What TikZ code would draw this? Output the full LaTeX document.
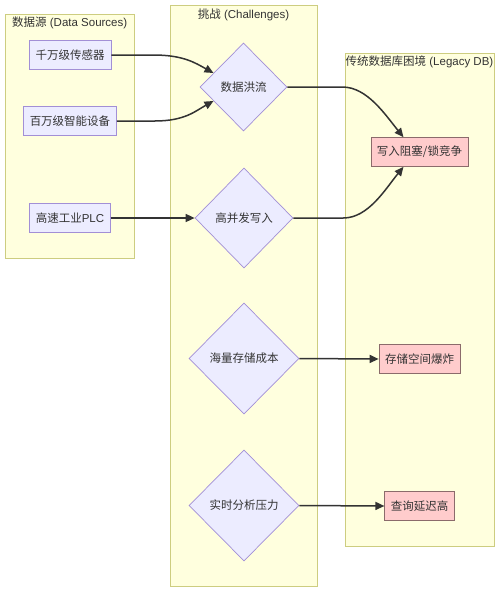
\documentclass[tikz,border=0pt]{standalone}
\usepackage{fontspec}
\setmainfont{Liberation Sans}
\newfontfamily\cjk{Noto Sans CJK SC}
\usetikzlibrary{shapes.geometric,arrows.meta}
\definecolor{clfill}{HTML}{FFFFDE}
\definecolor{clline}{HTML}{CDCD80}
\definecolor{nfill}{HTML}{ECECFF}
\definecolor{nline}{HTML}{A28FD6}
\definecolor{rfill}{HTML}{FFCCCC}
\definecolor{rline}{HTML}{8B6B6B}
\definecolor{txt}{HTML}{333333}
\tikzset{
  cluster/.style={draw=clline, fill=clfill, line width=1pt},
  cltitle/.style={text=txt, font=\fontsize{11.5pt}{13pt}\selectfont, inner sep=0pt},
  srcbox/.style={draw=nline, fill=nfill, line width=0.7pt, minimum height=29pt, inner xsep=6pt, text=txt, font=\fontsize{11.5pt}{13pt}\selectfont\cjk},
  dia/.style={diamond, aspect=1, draw=nline, fill=nfill, line width=0.7pt, inner sep=0pt, text=txt, font=\fontsize{11.5pt}{13pt}\selectfont\cjk},
  redbox/.style={draw=rline, fill=rfill, line width=0.7pt, minimum height=29pt, inner xsep=6pt, text=txt, font=\fontsize{11.5pt}{13pt}\selectfont\cjk},
  edge/.style={draw=txt, line width=1.5pt, -{Triangle[length=9pt,width=8pt]}},
}
\begin{document}
\begin{tikzpicture}[x=1pt,y=-1pt]
\useasboundingbox (0,0) rectangle (500,592);
\fill[white] (0,0) rectangle (500,592);
% clusters
\draw[cluster] (5,14) rectangle (134,258);
\draw[cluster] (170,5) rectangle (317,586);
\draw[cluster] (345,53) rectangle (494,546);
\node[cltitle, anchor=west] (t1) at (12,23) {{\cjk 数据源} (Data Sources)};
\node[cltitle] (t2) at (243.5,15) {{\cjk 挑战} (Challenges)};
\node[cltitle] (t3) at (419.5,62) {{\cjk 传统数据库困境} (Legacy DB)};
% sources
\node[srcbox, minimum width=82pt] (s1) at (70,55) {千万级传感器};
\node[srcbox, minimum width=93pt] (s2) at (70,121) {百万级智能设备};
\node[srcbox, minimum width=80pt] (s3) at (70,218) {高速工业\fontspec{Liberation Sans}PLC};
% challenges
\node[dia, minimum width=87pt, minimum height=88pt] (d1) at (243.5,87) {数据洪流};
\node[dia, minimum width=98pt, minimum height=100pt] (d2) at (244,218) {高并发写入};
\node[dia, minimum width=110pt, minimum height=111pt] (d3) at (244,358.5) {海量存储成本};
\node[dia, minimum width=110pt, minimum height=111pt] (d4) at (244,505.5) {实时分析压力};
% legacy
\node[redbox, minimum width=95pt] (b1) at (419.5,152) {写入阻塞/锁竞争};
\node[redbox, minimum width=81pt] (b2) at (419.5,359) {存储空间爆炸};
\node[redbox, minimum width=69pt] (b3) at (419.5,506) {查询延迟高};
% edges
\draw[edge] (s1.east) -- ++(42,0) .. controls +(30,0) and +(-18,-10) .. (d1.155);
\draw[edge] (s2.east) -- ++(38,0) .. controls +(30,0) and +(-18,10) .. (d1.205);
\draw[edge] (s3.east) -- (d2.west);
\draw[edge] (d1.east) -- ++(55,0) .. controls +(25,0) and +(-18,-22) .. ([xshift=-16pt]b1.north);
\draw[edge] (d2.east) -- ++(50,0) .. controls +(25,0) and +(-18,22) .. ([xshift=-16pt]b1.south);
\draw[edge] (d3.east) -- (b2.west);
\draw[edge] (d4.east) -- (b3.west);
\end{tikzpicture}
\end{document}
